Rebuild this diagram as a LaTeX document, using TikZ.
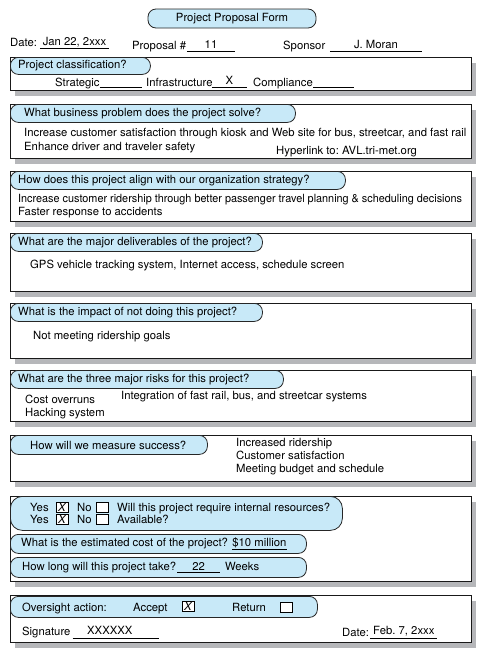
\documentclass[tikz,border=0pt]{standalone}
\usepackage{fontspec}
\setmainfont{TeX Gyre Heros}
\usetikzlibrary{positioning,shadows}
\definecolor{bubblefill}{RGB}{200,233,248}
\definecolor{shadowgray}{RGB}{182,183,186}
\newcommand\formfont{\fontsize{11.3pt}{13pt}\selectfont\frenchspacing}
\tikzset{x=1pt, y=-1pt,
         every node/.style={font=\formfont},
         txt/.style={inner sep=0pt, anchor=base west},
         field/.style={inner sep=0pt, anchor=base, minimum width=#1},
         rule/.style={line width=0.6pt},
         formbox/.style={draw=black!90, line width=0.9pt, fill=white,
           anchor=north west, inner sep=0pt, minimum width=461pt,
           drop shadow={shadow xshift=5pt, shadow yshift=-6pt,
                        fill=shadowgray, opacity=1}},
         bubble/.style={draw=black!85, line width=0.8pt, fill=bubblefill,
           rounded corners=8pt, anchor=north west, inner sep=0pt,
           minimum height=18pt},
         checkbox/.style={draw, fill=white, line width=0.5pt, inner sep=0pt,
           minimum width=12pt, minimum height=10pt, font=\formfont\itshape}}

\begin{document}
\begin{tikzpicture}
	\useasboundingbox (0,0) rectangle (481,651);
	% heading
	\node[bubble, anchor=center, minimum width=168pt, minimum height=19pt]
	  (title) at (232,18.5) {Project Proposal Form};
	\node[txt] (date) at (10,46) {Date:};
	\node[field=69pt] (datev) at (74.5,45) {Jan 22, 2xxx};
	\draw[rule] ([yshift=-3pt]datev.base west) -- ([yshift=-3pt]datev.base east);
	\node[txt] (prop) at (132,49) {Proposal \#};
	\node[field=48pt] (propv) at (211,48) {11};
	\draw[rule] ([yshift=-3pt]propv.base west) -- ([yshift=-3pt]propv.base east);
	\node[txt] (spon) at (283,49) {Sponsor};
	\node[field=92pt] (sponv) at (376,48) {J. Moran};
	\draw[rule] ([yshift=-3pt]sponv.base west) -- ([yshift=-3pt]sponv.base east);
	% classification
	\node[formbox, minimum height=33pt] (cls) at (10,57) {};
	\node[bubble, minimum width=140pt, minimum height=17pt] (clsq) at (10,57) {};
	\node[right=8pt of clsq.west, inner sep=0pt] (clsqt) {Project classification?};
	\node[txt] (strat) at (55,86) {Strategic};
	\draw[rule] ([yshift=-1pt]strat.base east) -- ++(42,0);
	\node[txt] (infra) at (146,86) {Infrastructure};
	\node[field=35pt] (infrav) at (229.5,84) {X};
	\draw[rule] ([yshift=-3pt]infrav.base west) -- ([yshift=-3pt]infrav.base east);
	\node[txt] (comp) at (253,86) {Compliance};
	\draw[rule] ([yshift=-1pt]comp.base east) -- ++(41,0);
	% business problem
	\node[formbox, minimum height=54pt] (prob) at (10,104) {};
	\node[bubble, minimum width=285pt] (probq) at (10,104) {};
	\node[right=14pt of probq.west, inner sep=0pt] (probqt)
	  {What business problem does the project solve?};
	\node[txt] (prob1) at (24,136)
	  {Increase customer satisfaction through kiosk and Web site for bus, streetcar, and fast rail};
	\node[txt] (prob2) at (24,150) {Enhance driver and traveler safety};
	\node[txt] (link) at (276,154) {Hyperlink to: AVL.tri-met.org};
	% strategy
	\node[formbox, minimum height=50pt] (strg) at (10,171) {};
	\node[bubble, minimum width=335pt] (strgq) at (10,171) {};
	\node[right=8pt of strgq.west, inner sep=0pt] (strgqt)
	  {How does this project align with our organization strategy?};
	\node[txt] (strg1) at (18,202)
	  {\scalebox{0.96}[1]{Increase customer ridership through better passenger travel planning \& scheduling decisions}};
	\node[txt] (strg2) at (18,215) {Faster response to accidents};
	% deliverables
	\node[formbox, minimum height=58pt] (dlv) at (10,233) {};
	\node[bubble, minimum width=252pt] (dlvq) at (10,233) {};
	\node[right=8pt of dlvq.west, inner sep=0pt] (dlvqt)
	  {What are the major deliverables of the project?};
	\node[txt] (dlv1) at (30,268) {GPS vehicle tracking system, Internet access, schedule screen};
	% impact
	\node[formbox, minimum height=55pt] (imp) at (10,303) {};
	\node[bubble, minimum width=252pt] (impq) at (10,303) {};
	\node[right=8pt of impq.west, inner sep=0pt] (impqt)
	  {What is the impact of not doing this project?};
	\node[txt] (imp1) at (33,339) {Not meeting ridership goals};
	% risks
	\node[formbox, minimum height=51pt] (risk) at (10,370) {};
	\node[bubble, minimum width=273pt] (riskq) at (10,370) {};
	\node[right=8pt of riskq.west, inner sep=0pt] (riskqt)
	  {What are the three major risks for this project?};
	\node[txt] (risk1) at (25,403) {Cost overruns};
	\node[txt] (risk2) at (121,399) {Integration of fast rail, bus, and streetcar systems};
	\node[txt] (risk3) at (25,416) {Hacking system};
	% success
	\node[formbox, minimum height=46pt] (succ) at (10,435) {};
	\node[bubble, minimum width=197pt, minimum height=19pt] (succq) at (10,435) {};
	\node[right=20pt of succq.west, inner sep=0pt] (succqt) {How will we measure success?};
	\node[txt] (succ1) at (236,446) {Increased ridership};
	\node[txt] (succ2) at (236,459) {Customer satisfaction};
	\node[txt] (succ3) at (236,472) {Meeting budget and schedule};
	% resources, cost, time
	\node[formbox, minimum height=85pt] (res) at (10,496) {};
	\node[bubble, minimum width=332pt, minimum height=34pt, rounded corners=12pt]
	  (resq) at (10,496) {};
	\node[txt] (yes1) at (30,511) {Yes};
	\node[checkbox] (yes1b) at (62,507) {X};
	\node[txt] (no1) at (77,511) {No};
	\node[checkbox] (no1b) at (102.5,507) {};
	\node[txt] (res1) at (117,511) {Will this project require internal resources?};
	\node[txt] (yes2) at (30,523) {Yes};
	\node[checkbox] (yes2b) at (62,519) {X};
	\node[txt] (no2) at (77,523) {No};
	\node[checkbox] (no2b) at (102.5,519) {};
	\node[txt] (res2) at (117,523) {Available?};
	\node[bubble, minimum width=296pt, minimum height=19pt] (costq) at (10,534) {};
	\node[right=11pt of costq.west, inner sep=0pt] (costqt)
	  {What is the estimated cost of the project?};
	\node[base right=4pt of costqt, inner sep=0pt] (costv) {\$10 million};
	\draw[rule] ([yshift=-2pt]costv.base west) -- ([yshift=-2pt]costv.base east);
	\node[bubble, minimum width=296pt, minimum height=20pt] (timeq) at (10,557) {};
	\node[right=12pt of timeq.west, inner sep=0pt] (timeqt) {How long will this project take?};
	\node[field=42pt, base right=1pt of timeqt] (timev) {22};
	\draw[rule] ([yshift=-1.5pt]timev.base west) -- ([yshift=-1.5pt]timev.base east);
	\node[base right=5pt of timev, inner sep=0pt] (weeks) {Weeks};
	% oversight
	\node[formbox, minimum height=47pt] (ovs) at (10,595) {};
	\node[bubble, minimum width=307pt, minimum height=21pt] (ovsq) at (10,596) {};
	\node[txt] (ovsqt) at (22,611) {Oversight action:};
	\node[txt] (acc) at (133,611) {Accept};
	\node[checkbox] (accb) at (188,606.5) {X};
	\node[txt] (ret) at (232,611) {Return};
	\node[checkbox] (retb) at (286,607) {};
	\node[txt] (sig) at (22,635) {Signature};
	\node[txt] (sigv) at (87,634) {XXXXXX};
	\draw[rule] ([xshift=2pt,yshift=-3pt]sig.base east) -- ++(86,0);
	\node[txt] (date2) at (342,636) {Date:};
	\node[txt] (date2v) at (373,634) {Feb. 7, 2xxx};
	\draw[rule] ([xshift=1pt,yshift=-2pt]date2.base east) -- ++(67,0);
\end{tikzpicture}
\end{document}
